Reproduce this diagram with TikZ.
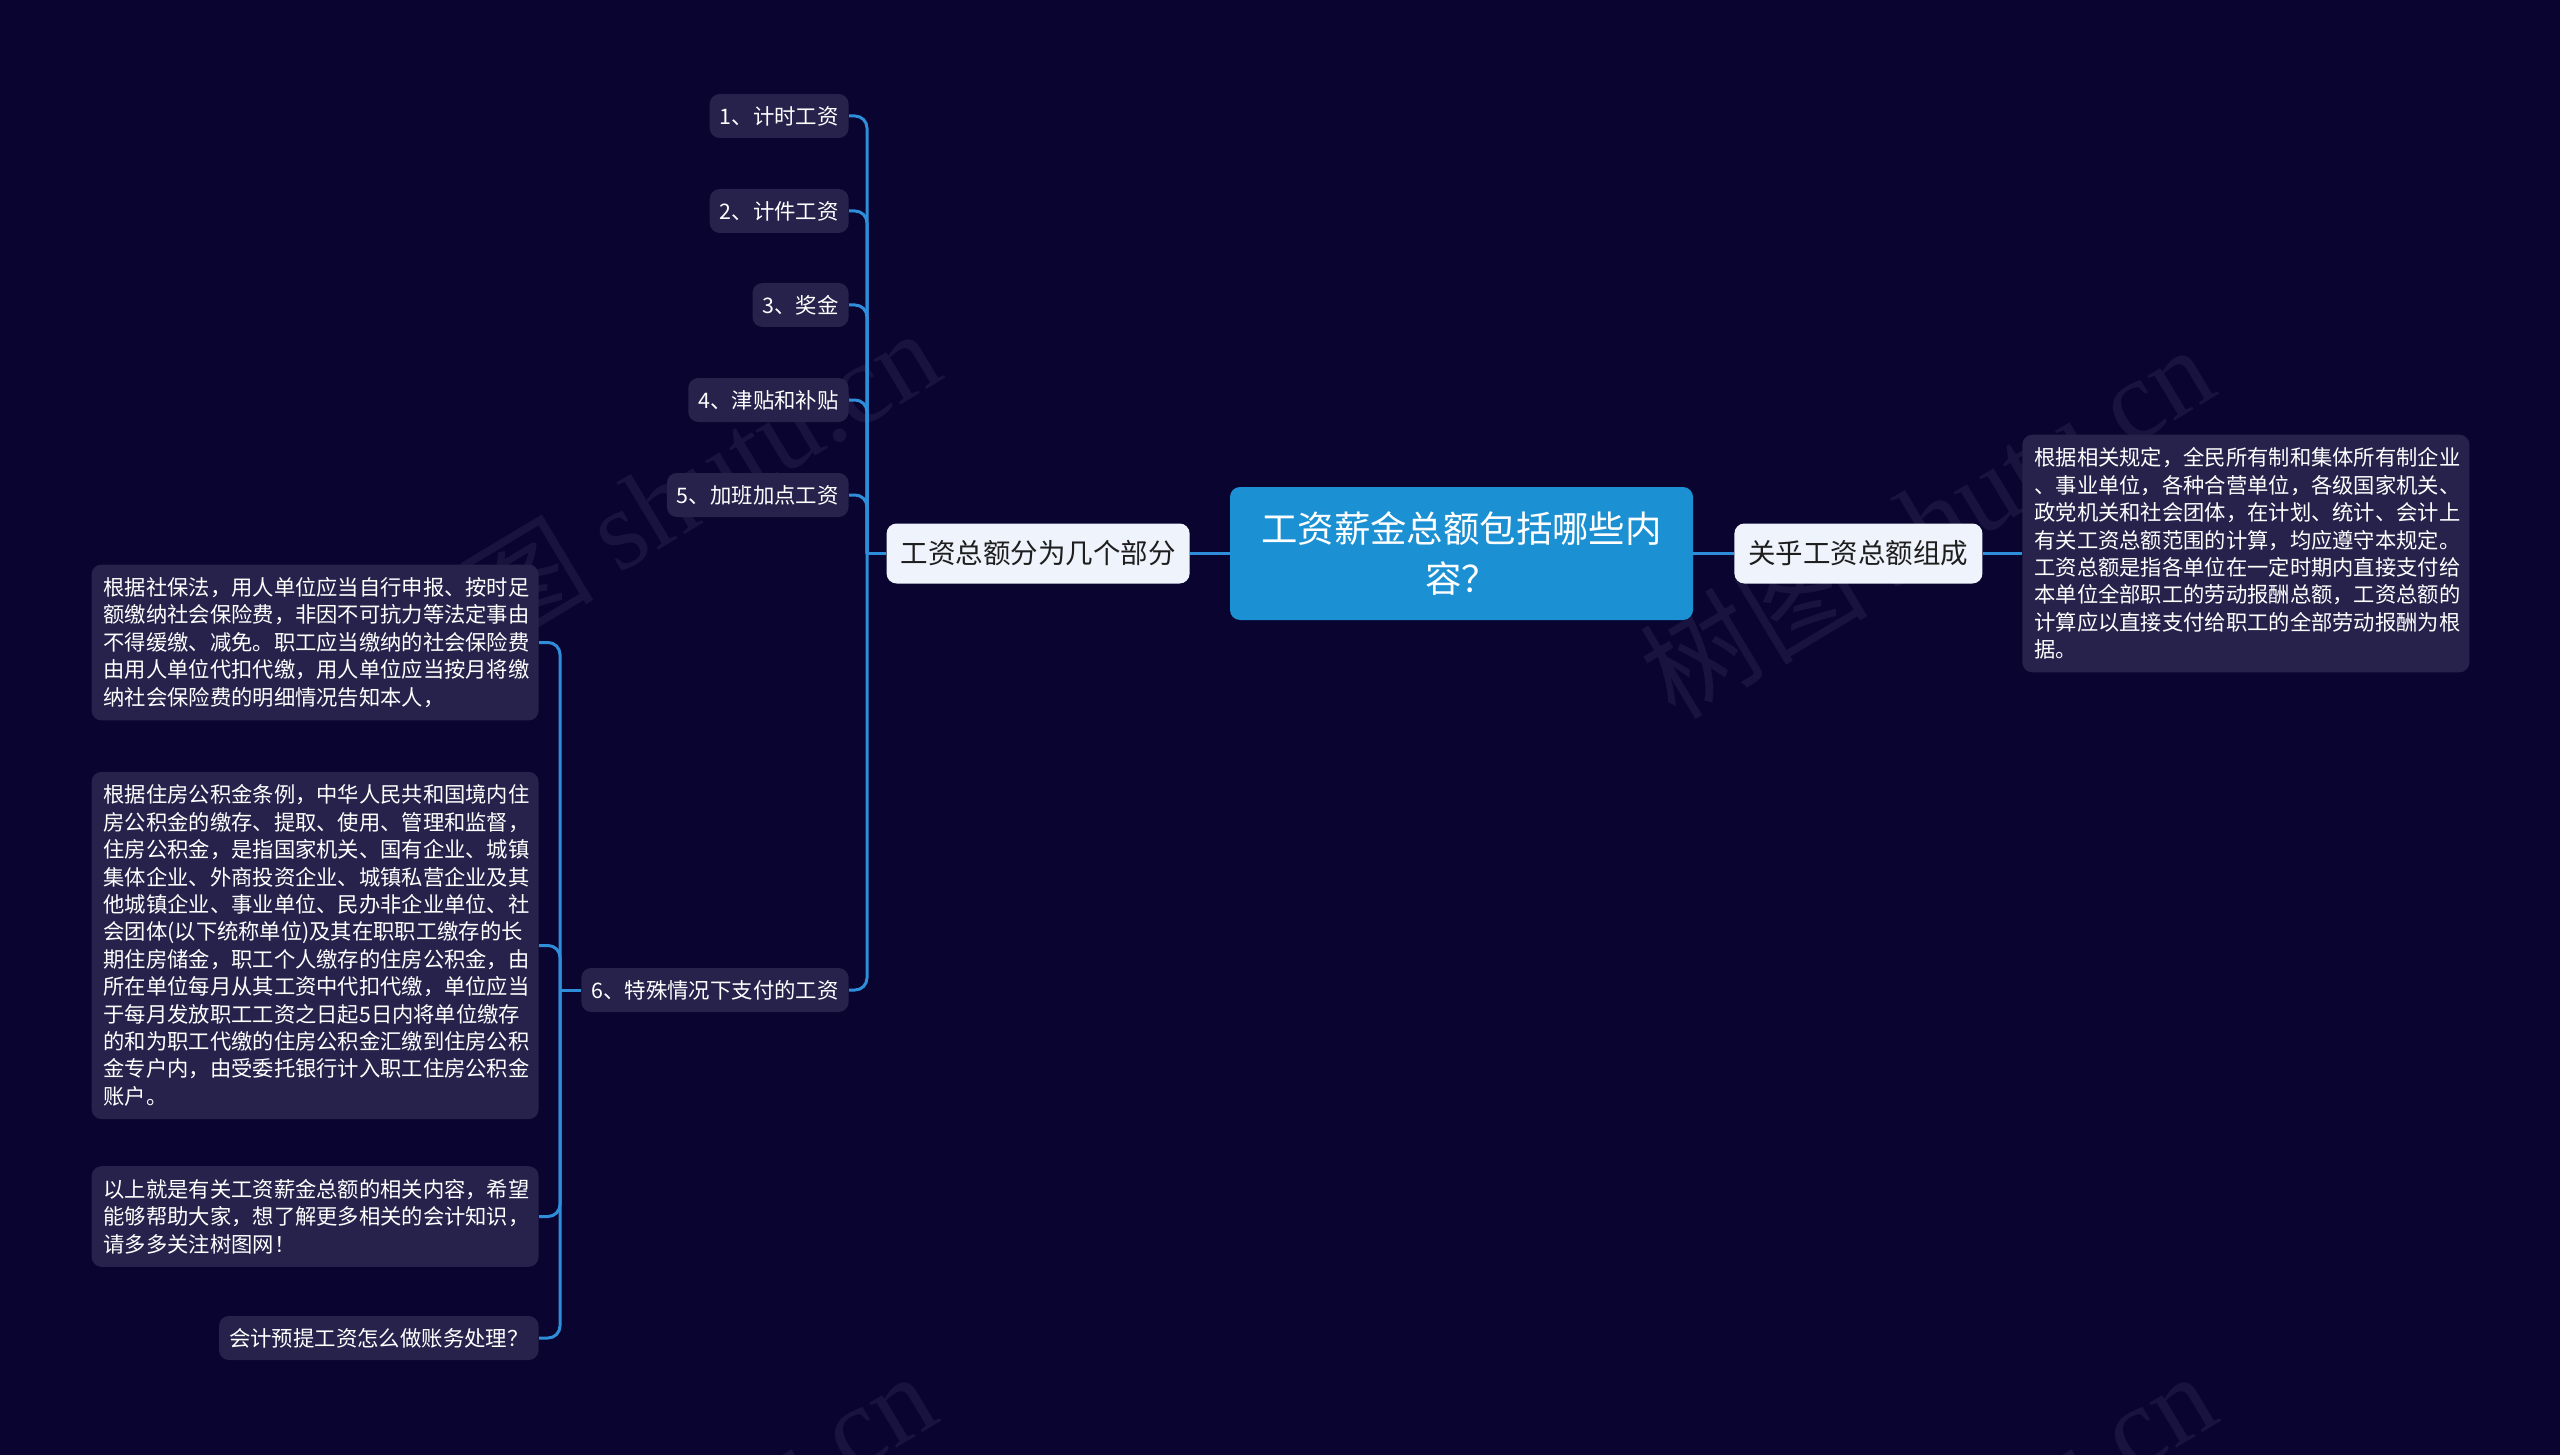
\documentclass[tikz,border=0pt]{standalone}
\usepackage{fontspec}
\setmainfont{Noto Sans CJK SC}
\newfontfamily\wmfont{Liberation Serif}
\definecolor{bgc}{HTML}{0A0430}
\definecolor{itemc}{HTML}{27224B}
\definecolor{subc}{HTML}{EEF3FC}
\definecolor{rootc}{HTML}{1B90D2}
\definecolor{linec}{HTML}{2F8ED9}
\definecolor{wmc}{HTML}{19143F}
\definecolor{subtext}{HTML}{1E1E1E}
\tikzset{
  itemnode/.style={fill=itemc, rounded corners=5pt, text=white, font=\fontsize{10.7}{13.7}\selectfont,
    inner xsep=5pt, inner ysep=0pt, minimum height=22pt},
  leafnode/.style={fill=itemc, rounded corners=5pt, text=white, font=\fontsize{10.65}{13.7}\selectfont,
    align=left, text width=211.5pt, inner xsep=6pt, inner ysep=6.5pt},
  subnode/.style={fill=subc, rounded corners=5pt, text=subtext, font=\fontsize{13.75}{16}\selectfont,
    inner xsep=7pt, inner ysep=0pt, minimum height=30pt},
  rootnode/.style={fill=rootc, rounded corners=5pt, text=white, font=\fontsize{18.2}{25}\selectfont,
    align=center, minimum width=231.5pt, minimum height=66.5pt},
  conn/.style={draw=linec, line width=1.5pt},
  branch/.style={conn, rounded corners=6pt},
  wm/.style={text=wmc, font=\fontsize{57}{60}\selectfont, rotate=31, inner sep=0pt}
}
\begin{document}
\begin{tikzpicture}[x=0.5pt, y=-0.5pt]
\useasboundingbox (0,0) rectangle (2560,1455);
\fill[bgc] (0,0) rectangle (2560,1455);
% watermarks
\node[wm] (wm1) at (652,504) {树图 {\wmfont shutu.cn}};
\node[wm] (wm2) at (1926,520) {树图 {\wmfont shutu.cn}};
\node[wm] (wm3) at (648,1547) {树图 {\wmfont shutu.cn}};
\node[wm] (wm4) at (1928,1547) {树图 {\wmfont shutu.cn}};
% root and right side
\node[rootnode] (root) at (1461.5,553.5) {工资薪金总额包括哪些内\\容？};
\node[subnode, anchor=west] (rsub) at (1734,553.5) {关乎工资总额组成};
\node[leafnode, anchor=west] (rleaf) at (2022,553.5) {根据相关规定，全民所有制和集体所有制企业\\、事业单位，各种合营单位，各级国家机关、\\政党机关和社会团体，在计划、统计、会计上\\有关工资总额范围的计算，均应遵守本规定。\\工资总额是指各单位在一定时期内直接支付给\\本单位全部职工的劳动报酬总额，工资总额的\\计算应以直接支付给职工的全部劳动报酬为根\\据。};
% left side
\node[subnode, anchor=east] (lsub) at (1190,553.5) {工资总额分为几个部分};
\node[itemnode, anchor=east] (i1) at (849,116) {1、计时工资};
\node[itemnode, anchor=east] (i2) at (849,211) {2、计件工资};
\node[itemnode, anchor=east] (i3) at (849,305) {3、奖金};
\node[itemnode, anchor=east] (i4) at (849,400) {4、津贴和补贴};
\node[itemnode, anchor=east] (i5) at (849,495) {5、加班加点工资};
\node[itemnode, anchor=east] (i6) at (849,990) {6、特殊情况下支付的工资};
\node[leafnode, anchor=east] (la) at (539,642.5) {根据社保法，用人单位应当自行申报、按时足\\额缴纳社会保险费，非因不可抗力等法定事由\\不得缓缴、减免。职工应当缴纳的社会保险费\\由用人单位代扣代缴，用人单位应当按月将缴\\纳社会保险费的明细情况告知本人，};
\node[leafnode, anchor=east] (lb) at (539,945.5) {根据住房公积金条例，中华人民共和国境内住\\房公积金的缴存、提取、使用、管理和监督，\\住房公积金，是指国家机关、国有企业、城镇\\集体企业、外商投资企业、城镇私营企业及其\\他城镇企业、事业单位、民办非企业单位、社\\会团体(以下统称单位)及其在职职工缴存的长\\期住房储金，职工个人缴存的住房公积金，由\\所在单位每月从其工资中代扣代缴，单位应当\\于每月发放职工工资之日起5日内将单位缴存\\的和为职工代缴的住房公积金汇缴到住房公积\\金专户内，由受委托银行计入职工住房公积金\\账户。};
\node[leafnode, anchor=east] (lc) at (539,1216.5) {以上就是有关工资薪金总额的相关内容，希望\\能够帮助大家，想了解更多相关的会计知识，\\请多多关注树图网！};
\node[itemnode, anchor=east] (ld) at (539,1338) {会计预提工资怎么做账务处理？};
% connectors
\draw[conn] (root.east) -- (rsub.west);
\draw[conn] (rsub.east) -- (rleaf.west);
\draw[conn] (root.west) -- (lsub.east);
\coordinate (j1) at (867,553.5);
\draw[conn] (lsub.west) -- (j1);
\foreach \n in {i1,i2,i3,i4,i5,i6} {\draw[branch] (j1) |- (\n.east);}
\coordinate (j2) at (560,990);
\draw[conn] (i6.west) -- (j2);
\foreach \n in {la,lb,lc,ld} {\draw[branch] (j2) |- (\n.east);}
\end{tikzpicture}
\end{document}
